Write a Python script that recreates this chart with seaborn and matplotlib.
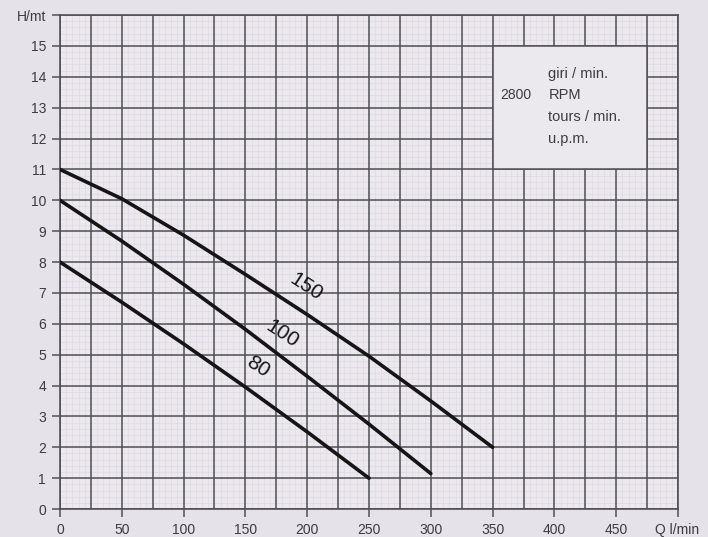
import numpy as np
import pandas as pd
import matplotlib
matplotlib.use("Agg")
import matplotlib.pyplot as plt
from matplotlib.patches import Rectangle
import seaborn as sns

# pump curves (Q in l/min, H in m)
q_150 = [0, 50, 100, 150, 200, 250, 300, 350]
h_150 = [11.0, 10.05, 8.87, 7.6, 6.3, 4.95, 3.5, 2.0]
q_100 = [0, 50, 100, 150, 200, 250, 300]
h_100 = [10.0, 8.68, 7.28, 5.82, 4.3, 2.75, 1.15]
q_80 = [0, 50, 100, 150, 200, 250]
h_80 = [8.0, 6.7, 5.35, 3.95, 2.5, 1.0]
curve_names = ["150", "100", "80"]

x_ticks = [0, 50, 100, 150, 200, 250, 300, 350, 400, 450, 500]
x_labels = ["0", "50", "100", "150", "200", "250", "300", "350", "400", "450", ""]
y_ticks = list(range(0, 17))
y_labels = [str(v) for v in range(0, 16)] + ["H/mt"]
rpm_lines = ["giri / min.", "RPM", "tours / min.", "u.p.m."]

df = pd.concat([
    pd.DataFrame({"Q": q_150, "H": h_150, "curve": "150"}),
    pd.DataFrame({"Q": q_100, "H": h_100, "curve": "100"}),
    pd.DataFrame({"Q": q_80, "H": h_80, "curve": "80"}),
])

bg = "#e5e2e9"
grid_col = "#505056"
text_col = "#3c3c40"
ink = "#151515"

sns.set_theme(style="white")
plt.rcParams["font.family"] = ["Liberation Sans", "DejaVu Sans"]

fig = plt.figure(figsize=(7.08, 5.37), dpi=100, facecolor=bg)
ax = fig.add_axes([0.0847, 0.052, 0.873, 0.92])
ax.set_facecolor("#ebe8ee")

# faint graph-paper lines
for v in np.arange(0, 500, 5):
    ax.axvline(v, color="#dcd6e0", lw=0.4, zorder=0)
for v in np.arange(0, 16, 0.2):
    ax.axhline(v, color="#dcd6e0", lw=0.4, zorder=0)
# main grid
for v in range(0, 501, 25):
    ax.axvline(v, color=grid_col, lw=1.1, zorder=1)
for v in range(0, 17):
    ax.axhline(v, color=grid_col, lw=1.1, zorder=1)

# RPM box covering the grid
ax.add_patch(Rectangle((350, 11), 125, 4, facecolor="#ebe8ee", edgecolor=grid_col,
                       lw=1.1, zorder=2))
ax.text(356, 13.4, "2800", fontsize=10, color=text_col, va="center", ha="left", zorder=3)
for i, line in enumerate(rpm_lines):
    ax.text(395, 14.1 - 0.7 * i, line, fontsize=10.5, color=text_col, va="center",
            ha="left", zorder=3)

sns.lineplot(data=df, x="Q", y="H", hue="curve", hue_order=curve_names,
             palette={"150": ink, "100": ink, "80": ink},
             linewidth=2.6, legend=False, ax=ax, zorder=4)

ax.text(199, 7.2, "150", fontsize=15, rotation=-33, ha="center", va="center",
        color=ink, zorder=5)
ax.text(180, 5.67, "100", fontsize=15, rotation=-33, ha="center", va="center",
        color=ink, zorder=5)
ax.text(160, 4.6, "80", fontsize=15, rotation=-33, ha="center", va="center",
        color=ink, zorder=5)

ax.set_xlim(0, 500)
ax.set_ylim(0, 16)
ax.set_xticks(x_ticks)
ax.set_xticklabels(x_labels)
ax.set_yticks(y_ticks)
ax.set_yticklabels(y_labels)
ax.tick_params(axis="both", which="major", direction="out", length=6, width=1.1,
               color=grid_col, labelsize=10, labelcolor=text_col, pad=4,
               left=True, bottom=True)
ax.annotate("Q l/min", xy=(481, 0), xycoords=("data", "axes fraction"),
            xytext=(0, -10), textcoords="offset points", ha="left", va="top",
            fontsize=10, color=text_col, annotation_clip=False)
ax.set_xlabel("")
ax.set_ylabel("")
for side in ["left", "bottom", "top", "right"]:
    ax.spines[side].set_color(grid_col)
    ax.spines[side].set_linewidth(1.2)

fig.savefig("out.png", dpi=100, facecolor=bg)
